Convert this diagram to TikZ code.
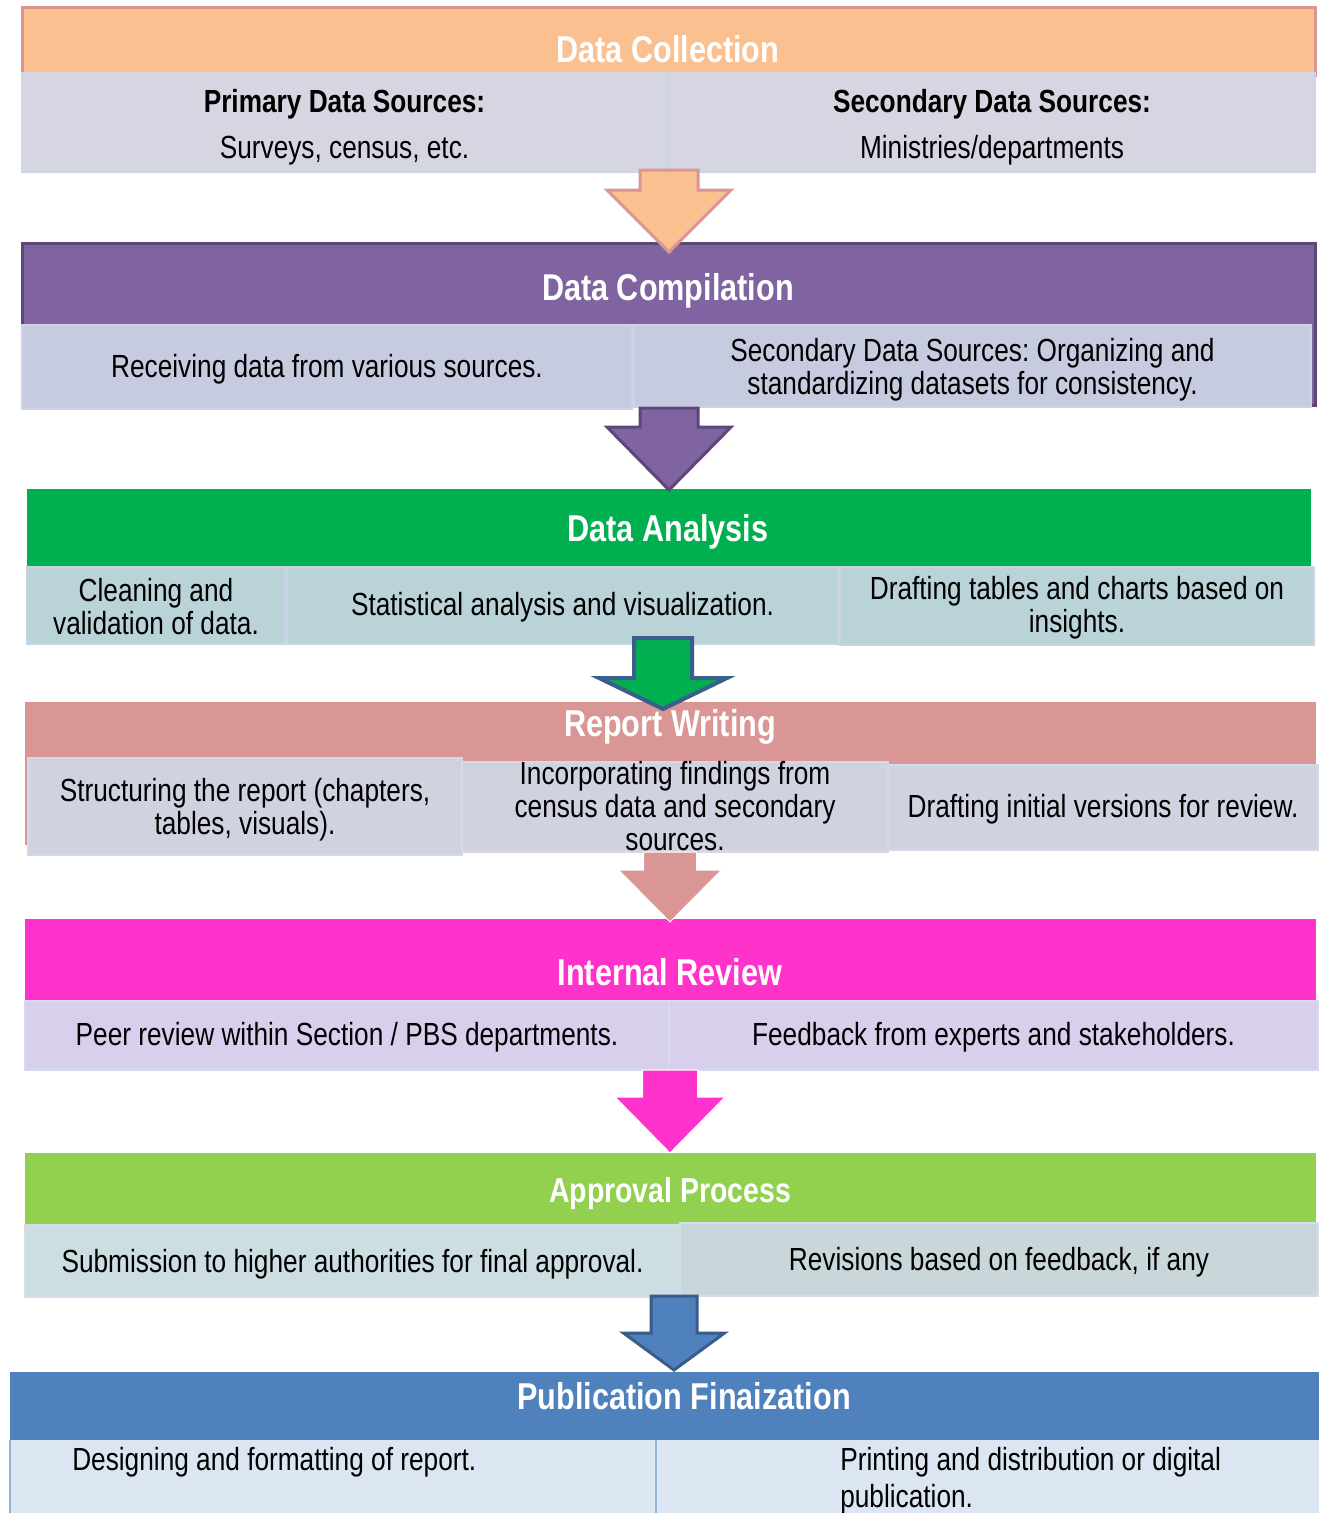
\documentclass[tikz,border=0pt]{standalone}
\usepackage{fontspec}
\setmainfont{Liberation Sans}[FakeStretch=0.82]
\usetikzlibrary{calc}
\frenchspacing
\definecolor{cOrange}{HTML}{FAC090}
\definecolor{cSalmon}{HTML}{D99694}
\definecolor{cGray}{HTML}{D5D6E1}
\definecolor{cGrayB}{HTML}{CDD5E6}
\definecolor{cPurple}{HTML}{8064A2}
\definecolor{cPurpleB}{HTML}{5C4776}
\definecolor{cComp}{HTML}{C6CBDF}
\definecolor{cCompB}{HTML}{CCD3E6}
\definecolor{cGreen}{HTML}{00B050}
\definecolor{cAna}{HTML}{B9D3D9}
\definecolor{cAnaB}{HTML}{C8D4E6}
\definecolor{cRep}{HTML}{D0D2E0}
\definecolor{cRepB}{HTML}{D2DAEA}
\definecolor{cMagenta}{HTML}{FF33CC}
\definecolor{cRev}{HTML}{D8CFEC}
\definecolor{cRevB}{HTML}{D3DBEE}
\definecolor{cLGreen}{HTML}{92D050}
\definecolor{cAppL}{HTML}{CCDEE1}
\definecolor{cAppR}{HTML}{C9D7DA}
\definecolor{cAppB}{HTML}{D5DCEB}
\definecolor{cBlue}{HTML}{4F81BD}
\definecolor{cBlueB}{HTML}{385D8A}
\definecolor{cArrG}{HTML}{3B5E8C}
\definecolor{cPub}{HTML}{DCE6F2}
\definecolor{cPubB}{HTML}{95B3D7}
\newcommand\bodyf{\fontsize{24}{24.5}\selectfont}
\newcommand\titlef{\fontsize{28}{30}\selectfont\bfseries}
% [text offset] name, style, x1, y1, x2, y2, text
\newcommand\cellbox[8][3]{%
  \node[cell,#3,minimum width={(#6-#4)*0.75pt},minimum height={(#7-#5)*0.75pt}] (#2) at (#4,#5) {};
  \node[txt] (#2t) at ($(#2.center)+(0,#1)$) {#8};}
% name, style, start coord, end coord, shaft half width, head base offset, head half width
\newcommand\blockarrow[7]{%
  \draw[#2] ($(#3)+(-#5,0)$) -- ($(#3)+(#5,0)$) -- ($(#3)+(#5,#6)$) -- ($(#3)+(#7,#6)$)
    -- (#4) -- ($(#3)+(-#7,#6)$) -- ($(#3)+(-#5,#6)$) -- cycle;}
\begin{document}
\begin{tikzpicture}[x=0.75pt,y=-0.75pt,
  cell/.style={anchor=north west,inner sep=0pt,outer sep=0pt},
  txt/.style={anchor=center,inner sep=0pt,align=center,font=\bodyf,text=black},
  hdr/.style={line width=2.25pt},
  title/.style={anchor=base,inner sep=0pt,font=\titlef,text=white},
  plain/.style={anchor=base west,inner sep=0pt,font=\bodyf,text=black,align=left},
  arr/.style={line width=2.25pt,line join=miter}]
\useasboundingbox[fill=white] (0,0) rectangle (1319,1513);

% ---------- Data Collection ----------
\cellbox{colH}{hdr,fill=cOrange,draw=cSalmon}{22}{8}{1315}{76}{}
\cellbox[5]{colL}{fill=cGray,draw=cGrayB,line width=2pt}{22}{73}{667}{172}{\textbf{Primary Data Sources:}\\[10pt]Surveys, census, etc.}
\cellbox[5]{colR}{fill=cGray,draw=cGrayB,line width=2pt}{669}{73}{1315}{172}{\textbf{Secondary Data Sources:}\\[10pt]Ministries/departments}
\node[title] (colT) at (668,63) {Data Collection};

% ---------- Data Compilation ----------
\cellbox{comH}{hdr,fill=cPurple,draw=cPurpleB}{22}{243}{1315}{405}{}
\cellbox[2]{comL}{fill=cComp,draw=cCompB,line width=2pt}{22}{325}{632}{409}{Receiving data from various sources.}
\cellbox[3.5]{comR}{fill=cComp,draw=cCompB,line width=2pt}{634}{325}{1311}{407}{Secondary Data Sources: Organizing and\\standardizing datasets for consistency.}
\node[title] (comT) at (668,300) {Data Compilation};

% ---------- Data Analysis ----------
\cellbox{anaH}{fill=cGreen}{27}{489}{1311}{568}{}
\cellbox[1]{ana1}{fill=cAna,draw=cAnaB,line width=2pt}{27}{567}{285}{644}{Cleaning and\\validation of data.}
\cellbox[2]{ana2}{fill=cAna,draw=cAnaB,line width=2pt}{287}{567}{838}{644}{Statistical analysis and visualization.}
\cellbox[2]{ana3}{fill=cAna,draw=cAnaB,line width=2pt}{840}{567}{1314}{645}{Drafting tables and charts based on\\insights.}
\node[title] (anaT) at (668,541) {Data Analysis};

% ---------- Report Writing ----------
\cellbox{repH}{fill=cSalmon}{25}{702}{1316}{845}{}
\cellbox[3]{rep1}{fill=cRep,draw=cRepB,line width=2pt}{28}{758}{462}{855}{Structuring the report (chapters,\\tables, visuals).}
\cellbox[-1]{rep2}{fill=cRep,draw=cRepB,line width=2pt}{462}{762}{888}{852}{Incorporating findings from\\census data and secondary\\sources.}
\cellbox[2]{rep3}{fill=cRep,draw=cRepB,line width=2pt}{888}{765}{1318}{850}{Drafting initial versions for review.}
\node[title] (repT) at (670,736) {Report Writing};

% ---------- Internal Review ----------
\cellbox{revH}{fill=cMagenta}{25}{919}{1316}{1002}{}
\cellbox[2]{revL}{fill=cRev,draw=cRevB,line width=1.5pt}{25}{1001}{669}{1070}{Peer review within Section / PBS departments.}
\cellbox[2]{revR}{fill=cRev,draw=cRevB,line width=1.5pt}{669}{1001}{1318}{1070}{Feedback from experts and stakeholders.}
\node[title] (revT) at (670,985) {Internal Review};

% ---------- Approval Process ----------
\cellbox{appH}{fill=cLGreen}{25}{1153}{1316}{1226}{}
\cellbox[3]{appL}{fill=cAppL,draw=cAppB,line width=1.5pt}{25}{1225}{680}{1297}{Submission to higher authorities for final approval.}
\cellbox[3]{appR}{fill=cAppR,draw=cAppB,line width=2pt}{680}{1223}{1318}{1296}{Revisions based on feedback, if any}
\node[title,font=\fontsize{26}{28}\selectfont\bfseries] (appT) at (670,1202) {Approval Process};

% ---------- Publication Finaization ----------
\cellbox{pubH}{fill=cBlue}{10}{1372}{1319}{1441}{}
\cellbox{pubL}{fill=cPub}{10}{1440}{656}{1513}{}
\cellbox{pubR}{fill=cPub}{656}{1440}{1319}{1513}{}
\draw[cPubB,line width=1pt] (pubL.north east) -- (pubL.south east);
\draw[cPubB,line width=1pt] (pubL.north west) -- (pubL.south west);
\node[title] (pubT) at (684,1409) {Publication Finaization};
\node[plain] (pubLtx) at (72,1470) {Designing and formatting of report.};
\node[plain,font=\fontsize{24}{27.75}\selectfont] (pubRtx) at (840,1507) {Printing and distribution or digital\\publication.};

% ---------- Arrows ----------
\coordinate (a1s) at (669,170); \coordinate (a1e) at (669,252);
\coordinate (a2s) at (669,408); \coordinate (a2e) at (669,490);
\coordinate (a3s) at (663,638); \coordinate (a3e) at (663,709);
\coordinate (a4s) at (670,852); \coordinate (a4e) at (670,922);
\coordinate (a5s) at (670,1070); \coordinate (a5e) at (670,1153);
\coordinate (a6s) at (674,1296); \coordinate (a6e) at (674,1370);
\blockarrow{ar1}{arr,fill=cOrange,draw=cSalmon}{a1s}{a1e}{29}{20}{62}
\blockarrow{ar2}{arr,fill=cPurple,draw=cPurpleB}{a2s}{a2e}{29}{19}{62}
\blockarrow{ar3}{arr,line width=3pt,fill=cGreen,draw=cArrG}{a3s}{a3e}{29}{40}{64}
\blockarrow{ar4}{fill=cSalmon,draw=white,line width=0.75pt}{a4s}{a4e}{26.5}{18}{51.5}
\blockarrow{ar5}{fill=cMagenta,draw=white,line width=0.75pt}{a5s}{a5e}{27.5}{27}{55}
\blockarrow{ar6}{arr,fill=cBlue,draw=cBlueB}{a6s}{a6e}{23}{37}{50.5}
\end{tikzpicture}
\end{document}
